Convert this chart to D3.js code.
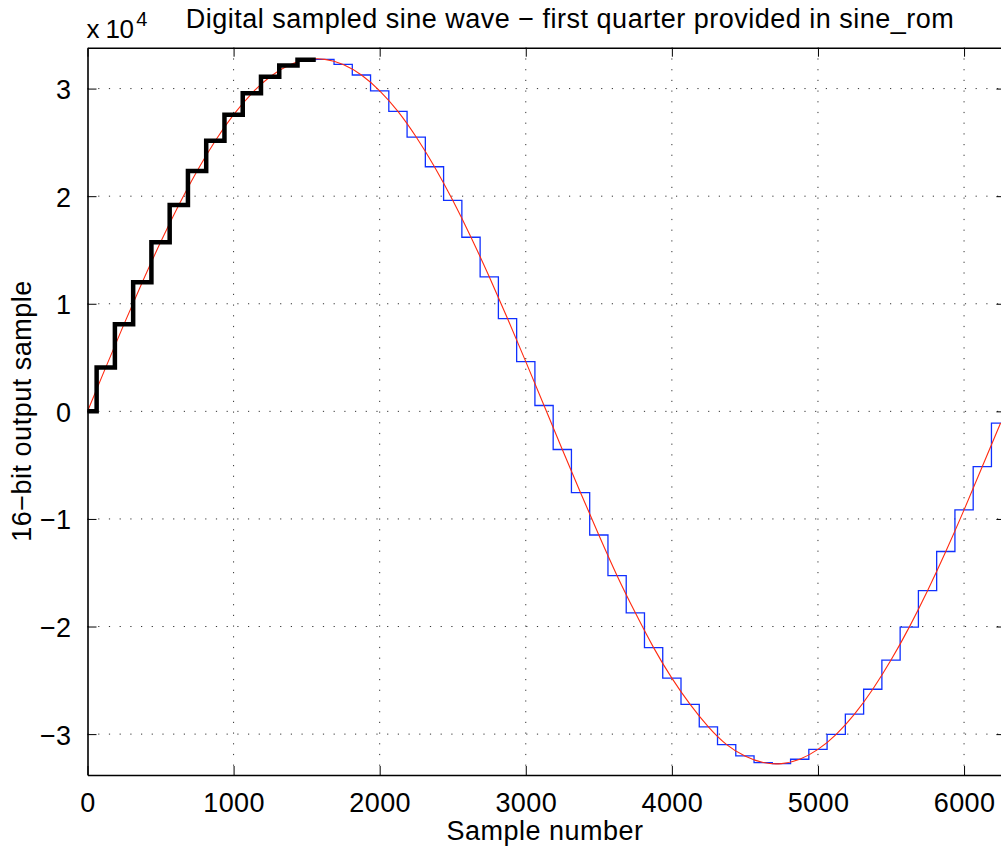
<!DOCTYPE html>
<html>
<head>
<meta charset="utf-8">
<script src="https://cdn.jsdelivr.net/npm/d3@7"></script>
<style>
  body { margin: 0; background: #fff; }
  svg text { font-family: "Liberation Sans", Arial, Helvetica, sans-serif; fill: #000; }
</style>
</head>
<body>
<svg id="canvas" width="1001" height="846"></svg>
<script>
let stepWidth = 125
let sineRom = [
    0, 4085, 8107, 12002, 15709, 19172, 22335, 25150, 27572, 29565,
    31095, 32141, 32685, 32719, 32242, 31263, 29795, 27882, 25495, 22733,
    19610, 16184, 12506, 8625, 4624, 544, -3545, -7559, -11494, -15273,
    -18728, -21961, -24798, -27237, -29326, -30975, -32031, -32641, -32744, -32335,
    -31421, -30020, -28145, -25828, -23119, -20056, -16672, -13027, -9156, -5132,
    -1087
]
let quarterSteps = 13   // first quarter drawn in black
let xTicks = [0, 1000, 2000, 3000, 4000, 5000, 6000]
let yTicks = [-30000, -20000, -10000, 0, 10000, 20000, 30000]
let xDomain = [0, 6283]
let yDomain = [-33800, 33800]

let canvas = d3.select('#canvas')

let plotLeft = 87.5, plotTop = 47.7, plotBottom = 775
let xScale = d3.scaleLinear().domain(xDomain).range([plotLeft, 1005.4])
let yScale = d3.scaleLinear().domain(yDomain).range([plotBottom, plotTop])
let plotRight = xScale(xDomain[1])

canvas.append('clipPath').attr('id', 'plotClip')
    .append('rect')
    .attr('x', plotLeft).attr('y', plotTop)
    .attr('width', plotRight - plotLeft).attr('height', plotBottom - plotTop)

// dotted grid
let grid = canvas.append('g')
grid.selectAll('.gx')
    .data(xTicks.slice(1))
    .enter()
    .append('line')
    .attr('x1', (d) => xScale(d)).attr('x2', (d) => xScale(d))
    .attr('y1', plotTop).attr('y2', plotBottom)
grid.selectAll('.gy')
    .data(yTicks)
    .enter()
    .append('line')
    .attr('x1', plotLeft).attr('x2', plotRight)
    .attr('y1', (d) => yScale(d)).attr('y2', (d) => yScale(d))
grid.selectAll('line')
    .attr('stroke', '#333')
    .attr('stroke-width', 1)
    .attr('stroke-dasharray', '1.2,9.5')

// stair points: each value held over its step, centred on k*stepWidth
let stairPoints = (values) => {
    let pts = values.map((v, k) => [(k - 0.5) * stepWidth, v])
    pts.push([(values.length - 0.5) * stepWidth, values[values.length - 1]])
    return pts
}

let stairLine = d3.line()
    .x((d) => xScale(d[0]))
    .y((d) => yScale(d[1]))
    .curve(d3.curveStepAfter)

let plot = canvas.append('g').attr('clip-path', 'url(#plotClip)')

plot.append('path')
    .attr('d', stairLine(stairPoints(sineRom)))
    .attr('fill', 'none')
    .attr('stroke', '#1030ff')
    .attr('stroke-width', 1.3)

plot.append('path')
    .attr('d', d3.line()
        .x((d, k) => xScale(k * stepWidth))
        .y((d) => yScale(d))
        .curve(d3.curveNatural)(sineRom))
    .attr('fill', 'none')
    .attr('stroke', '#ff2a10')
    .attr('stroke-width', 1.1)

plot.append('path')
    .attr('d', stairLine(stairPoints(sineRom.slice(0, quarterSteps))))
    .attr('fill', 'none')
    .attr('stroke', '#000')
    .attr('stroke-width', 4.5)
    .attr('stroke-linejoin', 'miter')

// axes: box with inner ticks on all sides
let tickLen = 9
let axisBottom = d3.axisBottom(xScale).tickValues(xTicks).tickSizeInner(-tickLen).tickSizeOuter(0)
    .tickPadding(18).tickFormat(d3.format('d'))
let axisTop = d3.axisTop(xScale).tickValues(xTicks).tickSizeInner(-tickLen).tickSizeOuter(0).tickFormat('')
let axisLeft = d3.axisLeft(yScale).tickValues(yTicks).tickSizeInner(-tickLen).tickSizeOuter(0)
    .tickPadding(16).tickFormat((d) => d3.format('')(d / 10000))
let axisRight = d3.axisRight(yScale).tickValues(yTicks).tickSizeInner(-tickLen).tickSizeOuter(0).tickFormat('')

let gb = canvas.append('g').attr('transform', `translate(0,${plotBottom})`).call(axisBottom)
let gt = canvas.append('g').attr('transform', `translate(0,${plotTop})`).call(axisTop)
let gl = canvas.append('g').attr('transform', `translate(${plotLeft},0)`).call(axisLeft)
let gr = canvas.append('g').attr('transform', `translate(${plotRight},0)`).call(axisRight)

canvas.selectAll('.domain').attr('stroke', '#000').attr('stroke-width', 1.6)
canvas.selectAll('.tick line').attr('stroke', '#000').attr('stroke-width', 1)
canvas.selectAll('.tick text').attr('font-size', 27).attr('fill', '#000')
    .style('font-family', '"Liberation Sans", Arial, sans-serif')
    .style('letter-spacing', '0.4px')
gb.selectAll('.tick text').attr('dy', '0.71em')
gl.selectAll('.tick text').attr('dy', '0.37em')

// exponent label
let expo = canvas.append('text').attr('x', plotLeft - 1).attr('y', 38).attr('font-size', 26)
    .style('letter-spacing', '-0.6px')
expo.append('tspan').text('x 10')
expo.append('tspan').attr('font-size', 20).attr('dy', -12).attr('dx', 3).text('4')

// title and axis labels
canvas.append('text')
    .attr('x', 570).attr('y', 28)
    .attr('text-anchor', 'middle')
    .attr('font-size', 27)
    .style('letter-spacing', '0.5px')
    .text('Digital sampled sine wave \u2212 first quarter provided in sine_rom')

canvas.append('text')
    .attr('x', 545).attr('y', 840)
    .attr('text-anchor', 'middle')
    .attr('font-size', 27)
    .style('letter-spacing', '0.5px')
    .text('Sample number')

canvas.append('text')
    .attr('transform', 'translate(31,411) rotate(-90)')
    .attr('text-anchor', 'middle')
    .attr('font-size', 27)
    .style('letter-spacing', '0.5px')
    .text('16\u2212bit output sample')
</script>
</body>
</html>
